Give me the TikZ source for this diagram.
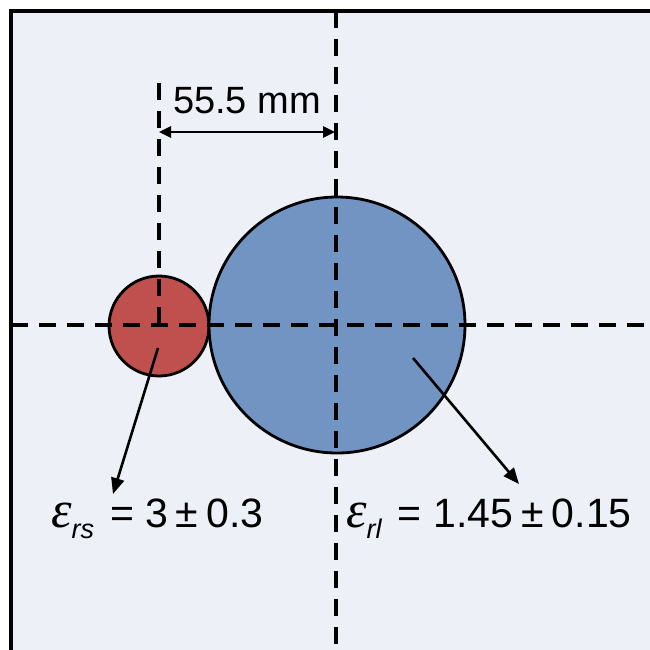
\documentclass[tikz,border=0pt]{standalone}
\usepackage{fontspec}
\setmainfont{Liberation Sans}
\newfontfamily\timesfont{Liberation Serif}
\usetikzlibrary{arrows.meta}
\definecolor{bgc}{HTML}{EDF0F6}
\definecolor{redc}{HTML}{C0504D}
\definecolor{bluec}{HTML}{7194C3}
\begin{document}
\begin{tikzpicture}[x=1pt,y=-1pt,
  dashline/.style={line width=3.2pt, dash pattern=on 17pt off 11pt},
  disc/.style={circle, draw=black, line width=2.8pt, inner sep=0pt},
  pointer/.style={line width=2.6pt, -{Triangle[length=16pt,width=13pt]}},
  dimline/.style={line width=2.6pt, {Triangle[length=12pt,width=11pt]}-{Triangle[length=12pt,width=11pt]}},
  biglabel/.style={inner sep=0pt, font=\fontsize{41}{44}\selectfont}]
\useasboundingbox (0,0) rectangle (650,649);
\fill[white] (0,0) rectangle (650,649);
\begin{scope}
\clip (0,0) rectangle (650,649);
\draw[line width=3.4pt, fill=bgc] (11,11) rectangle (680,680);
\end{scope}
% circles
\node[disc, fill=redc, minimum size=100pt] (small) at (159,326) {};
\node[disc, fill=bluec, minimum size=256pt] (large) at (337,325) {};
% dashed axes
\draw[dashline] (11,325) -- (650,325);
\draw[dashline] (336,11) -- (336,649);
\draw[dashline] (159,83) -- (159,325);
% dimension
\coordinate (dimL) at (159,132);
\coordinate (dimR) at (335,132);
\draw[dimline] (dimL) -- (dimR);
\node[biglabel, font=\fontsize{38}{42}\selectfont] (dim) at (247,101) {55.5 mm};
% labels
\node[biglabel, anchor=base west] (lblS) at (51,527)
  {{\fontsize{52}{52}\timesfont\itshape ε}{\fontsize{27}{27}\selectfont\itshape\raisebox{-11pt}{rs}}\hspace{16pt}=\hspace{11pt}3\hspace{8pt}±\hspace{8pt}0.3};
\node[biglabel, anchor=base west] (lblL) at (346,527)
  {{\fontsize{52}{52}\timesfont\itshape ε}{\fontsize{27}{27}\selectfont\itshape\raisebox{-11pt}{rl}}\hspace{16pt}=\hspace{12pt}1.45\hspace{8pt}±\hspace{8pt}0.15};
% pointers
\coordinate (sA) at (158,348);
\coordinate (sB) at (113,494);
\coordinate (lA) at (413,358);
\coordinate (lB) at (519,484);
\draw[pointer] (sA) -- (sB);
\draw[pointer] (lA) -- (lB);
\end{tikzpicture}
\end{document}
